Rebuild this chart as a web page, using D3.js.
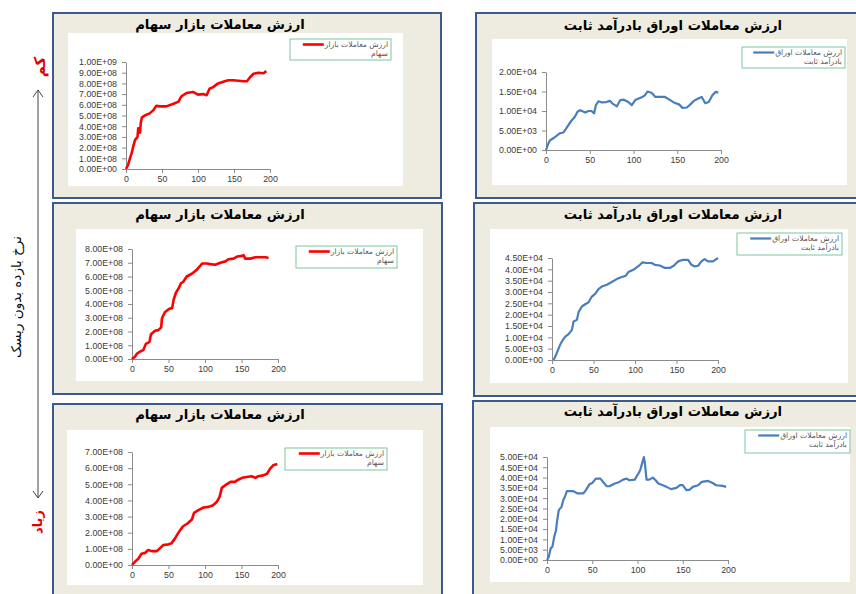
<!DOCTYPE html>
<html>
<head>
<meta charset="utf-8">
<script src="https://cdn.jsdelivr.net/npm/d3@7"></script>
<style>
  body { margin: 0; background: #fff; }
  svg { display: block; }
</style>
</head>
<body>
<div id="chart"></div>
<script>
// ---- data ----
const xTicks = [0, 50, 100, 150, 200];

// stock market, low risk-free rate (top left)
const stockLowX = [0, 3, 5.5, 8, 10, 12.5, 16, 17, 19.5, 20.5, 22, 26, 33, 38, 42, 47, 56, 66, 73, 77, 84, 93, 100, 107, 112, 116, 121, 128, 135, 142, 149, 156, 163, 168, 172, 177, 184, 191, 195];
const stockLowY = [0, 0.4e8, 1.0e8, 1.5e8, 2.1e8, 2.7e8, 3.0e8, 3.8e8, 3.4e8, 4.3e8, 4.8e8, 5.0e8, 5.2e8, 5.5e8, 5.9e8, 5.85e8, 5.85e8, 6.1e8, 6.3e8, 6.8e8, 7.1e8, 7.2e8, 6.95e8, 7.0e8, 6.9e8, 7.5e8, 7.65e8, 8.0e8, 8.15e8, 8.3e8, 8.3e8, 8.25e8, 8.2e8, 8.2e8, 8.55e8, 8.9e8, 9.0e8, 8.95e8, 9.15e8];
const stockLowTicks = [0, 1e8, 2e8, 3e8, 4e8, 5e8, 6e8, 7e8, 8e8, 9e8, 1e9];

// fixed income, low rate (top right)
const bondLowX = [0, 2.7, 4.6, 8.4, 12, 16, 20, 23, 25.6, 29, 33, 36, 39, 45, 48.5, 52, 55, 57, 60, 64, 69, 73, 76, 81, 85, 89, 94, 98, 102, 106, 110, 113, 116, 121, 125, 130, 136, 142, 146, 152, 156, 161, 165, 169, 174, 178, 182, 186, 190, 194, 197];
const bondLowY = [0, 1.7e3, 2.5e3, 3.0e3, 3.6e3, 4.3e3, 4.5e3, 5.5e3, 6.4e3, 7.5e3, 8.5e3, 9.8e3, 10.2e3, 9.6e3, 10.0e3, 10.0e3, 9.4e3, 11.5e3, 12.5e3, 12.2e3, 12.3e3, 12.6e3, 11.9e3, 11.2e3, 12.8e3, 12.9e3, 12.3e3, 11.5e3, 12.8e3, 13.2e3, 13.6e3, 14.0e3, 15.0e3, 14.6e3, 13.6e3, 13.6e3, 13.6e3, 12.8e3, 12.2e3, 11.7e3, 10.8e3, 10.9e3, 11.7e3, 12.6e3, 13.2e3, 13.6e3, 12.0e3, 12.3e3, 14.0e3, 14.9e3, 14.7e3];
const bondLowTicks = [0, 5e3, 1e4, 1.5e4, 2e4];

// stock market, medium rate (middle left)
const stockMidX = [0, 4, 7, 11, 15.5, 19, 24, 26, 31.6, 36, 40, 41, 45, 51, 55, 57, 60, 64, 67, 70, 75, 82, 89, 93, 96, 103, 107, 114, 121, 128, 132, 139, 144, 151, 153, 155, 162, 169, 176, 183, 187];
const stockMidY = [0, 0.17e8, 0.4e8, 0.53e8, 0.65e8, 1.1e8, 1.25e8, 1.8e8, 2.05e8, 2.1e8, 2.3e8, 2.95e8, 3.4e8, 3.65e8, 3.7e8, 4.3e8, 4.8e8, 5.15e8, 5.5e8, 5.6e8, 6.0e8, 6.2e8, 6.5e8, 6.75e8, 6.95e8, 6.95e8, 6.9e8, 6.85e8, 7.0e8, 7.1e8, 7.25e8, 7.3e8, 7.45e8, 7.5e8, 7.55e8, 7.3e8, 7.3e8, 7.4e8, 7.4e8, 7.4e8, 7.35e8];
const stockMidTicks = [0, 1e8, 2e8, 3e8, 4e8, 5e8, 6e8, 7e8, 8e8];

// fixed income, medium rate (middle right)
const bondMidX = [2, 5.6, 9.6, 13, 16, 20, 24, 26, 30, 32, 36, 40, 44, 48, 52, 56, 60, 66, 72, 78, 84, 89, 92, 98, 102, 106, 109, 114, 120, 124, 130, 136, 142, 147, 152, 158, 164, 168, 172, 176, 180, 184, 188, 194, 200];
const bondMidY = [0, 2.9e3, 6.6e3, 8.8e3, 10.3e3, 11.4e3, 13.3e3, 17.0e3, 17.7e3, 21.1e3, 23.6e3, 24.6e3, 25.5e3, 28.0e3, 29.2e3, 31.3e3, 32.4e3, 33.2e3, 34.4e3, 35.7e3, 36.6e3, 37.2e3, 38.8e3, 39.8e3, 40.9e3, 42.0e3, 43.1e3, 42.8e3, 42.8e3, 42.0e3, 41.7e3, 40.6e3, 40.6e3, 41.7e3, 43.5e3, 44.2e3, 44.2e3, 42.0e3, 41.3e3, 41.6e3, 43.5e3, 44.5e3, 43.5e3, 43.5e3, 45.0e3];
const bondMidTicks = [0, 5e3, 1e4, 1.5e4, 2e4, 2.5e4, 3e4, 3.5e4, 4e4, 4.5e4];

// stock market, high rate (bottom left)
const stockHighX = [0, 4, 9, 13, 18, 22, 27, 34, 38, 43, 50, 54, 59, 63, 66, 70, 76, 82, 85, 91, 98, 105, 111, 116, 120, 123, 129, 135, 141, 146, 151, 157, 164, 169, 173, 180, 185, 189, 194, 199];
const stockHighY = [0, 0.2e8, 0.4e8, 0.7e8, 0.75e8, 0.93e8, 0.86e8, 0.86e8, 1.03e8, 1.24e8, 1.28e8, 1.34e8, 1.65e8, 1.96e8, 2.16e8, 2.4e8, 2.57e8, 2.82e8, 3.23e8, 3.4e8, 3.56e8, 3.6e8, 3.7e8, 3.9e8, 4.22e8, 4.78e8, 4.98e8, 5.15e8, 5.15e8, 5.3e8, 5.4e8, 5.45e8, 5.5e8, 5.4e8, 5.5e8, 5.55e8, 5.65e8, 5.95e8, 6.2e8, 6.25e8];
const stockHighTicks = [0, 1e8, 2e8, 3e8, 4e8, 5e8, 6e8, 7e8];

// fixed income, high rate (bottom right)
const bondHighX = [0, 2, 4, 6, 8, 10, 11, 13, 16, 18, 20, 22, 29, 34, 40, 43, 47, 50, 54, 59, 62, 66, 69, 75, 80, 84, 88, 91, 97, 99, 102, 103.5, 105, 107, 108, 110, 113, 117, 120, 123, 128, 132, 137, 143, 147, 150, 154, 158, 161, 167, 171, 178, 183, 187, 194, 198];
const bondHighY = [0, 1.6e3, 5.6e3, 6.5e3, 11.3e3, 14.5e3, 18.5e3, 24.2e3, 25.8e3, 29.0e3, 31.0e3, 33.4e3, 33.4e3, 32.3e3, 32.3e3, 33.9e3, 36.8e3, 37.4e3, 39.5e3, 39.5e3, 37.9e3, 35.8e3, 35.8e3, 37.1e3, 37.9e3, 39.0e3, 39.5e3, 38.7e3, 39.0e3, 40.6e3, 42.7e3, 44.4e3, 46.8e3, 50.0e3, 47.6e3, 39.0e3, 39.0e3, 40.0e3, 38.7e3, 37.1e3, 36.3e3, 35.5e3, 34.4e3, 35.0e3, 36.3e3, 36.3e3, 33.9e3, 34.2e3, 35.5e3, 36.3e3, 37.9e3, 38.4e3, 37.4e3, 36.3e3, 36.0e3, 35.5e3];
const bondHighTicks = [0, 5e3, 1e4, 1.5e4, 2e4, 2.5e4, 3e4, 3.5e4, 4e4, 4.5e4, 5e4];

const stockTitle = "ارزش معاملات بازار سهام";
const bondTitle = "ارزش معاملات اوراق بادرآمد ثابت";
const stockLegend = ["ارزش معاملات بازار", "سهام"];
const bondLegend = ["ارزش معاملات اوراق", "بادرآمد ثابت"];
const sideLabel = "نرخ بازده بدون ریسک";
const lowLabel = "کم";
const highLabel = "زیاد";

const RED = "#ff0000";
const BLUE = "#4a7ebb";

// ---- layout of the six framed charts ----
const panels = [
  { frame: [53, 13, 388, 185], area: [68, 33, 335, 153], px: [126, 270], py: [169, 62], titleY: 29, titleX: 220,
    legend: [290, 39, 101, 21], xs: stockLowX, ys: stockLowY, ticks: stockLowTicks, title: stockTitle, leg: stockLegend, color: RED, w: 2.6 },
  { frame: [476, 13, 384, 185], area: [492, 39, 355, 146], px: [546, 721], py: [150, 72], titleY: 30, titleX: 673,
    legend: [742, 47, 103, 21], xs: bondLowX, ys: bondLowY, ticks: bondLowTicks, title: bondTitle, leg: bondLegend, color: BLUE, w: 2.2 },
  { frame: [53, 203, 389, 191], area: [76, 229, 347, 152], px: [132, 278], py: [359, 249], titleY: 219, titleX: 220,
    legend: [296, 246, 101, 22], xs: stockMidX, ys: stockMidY, ticks: stockMidTicks, title: stockTitle, leg: stockLegend, color: RED, w: 2.6 },
  { frame: [474, 203, 386, 193], area: [490, 229, 358, 154], px: [552, 718], py: [360, 258], titleY: 219, titleX: 673,
    legend: [737, 233, 105, 22], xs: bondMidX, ys: bondMidY, ticks: bondMidTicks, title: bondTitle, leg: bondLegend, color: BLUE, w: 2.2 },
  { frame: [53, 404, 389, 200], area: [67, 430, 356, 155], px: [132, 278], py: [565, 452], titleY: 419, titleX: 220,
    legend: [285, 448, 102, 22], xs: stockHighX, ys: stockHighY, ticks: stockHighTicks, title: stockTitle, leg: stockLegend, color: RED, w: 2.6 },
  { frame: [473, 401, 387, 200], area: [490, 427, 360, 155], px: [547, 728], py: [560, 457], titleY: 416, titleX: 673,
    legend: [745, 430, 105, 23], xs: bondHighX, ys: bondHighY, ticks: bondHighTicks, title: bondTitle, leg: bondLegend, color: BLUE, w: 2.2 }
];

// Excel style "1.00E+09"
function sci(v) {
  const [m, e] = v.toExponential(2).split("e");
  const n = +e;
  return m + "E" + (n < 0 ? "-" : "+") + String(Math.abs(n)).padStart(2, "0");
}

const svg = d3.select("#chart").append("svg")
  .attr("width", 856)
  .attr("height", 594);

svg.append("rect").attr("width", 856).attr("height", 594).attr("fill", "#fff");

panels.forEach(p => {
  const g = svg.append("g");

  g.append("rect")
    .attr("x", p.frame[0]).attr("y", p.frame[1])
    .attr("width", p.frame[2]).attr("height", p.frame[3])
    .attr("fill", "#eeece1")
    .attr("stroke", "#3d5a8c")
    .attr("stroke-width", 2);

  g.append("rect")
    .attr("x", p.area[0]).attr("y", p.area[1])
    .attr("width", p.area[2]).attr("height", p.area[3])
    .attr("fill", "#fff");

  g.append("text")
    .attr("x", p.titleX).attr("y", p.titleY)
    .attr("text-anchor", "middle")
    .attr("font-family", "DejaVu Sans")
    .attr("font-weight", "bold")
    .attr("font-size", 13.2)
    .attr("fill", "#000")
    .text(p.title);

  const x = d3.scaleLinear().domain([0, 200]).range(p.px);
  const y = d3.scaleLinear().domain([0, d3.max(p.ticks)]).range(p.py);

  const ya = g.append("g")
    .attr("transform", `translate(${p.px[0]},0)`)
    .call(d3.axisLeft(y).tickValues(p.ticks).tickFormat(sci).tickSize(4).tickSizeOuter(0));
  const xa = g.append("g")
    .attr("transform", `translate(0,${p.py[0]})`)
    .call(d3.axisBottom(x).tickValues(xTicks).tickSize(4).tickSizeOuter(0));

  [ya, xa].forEach(a => {
    a.select(".domain").attr("stroke", "#8c8c8c");
    a.selectAll(".tick line").attr("stroke", "#8c8c8c");
    a.selectAll(".tick text")
      .attr("fill", "#3a3a3a")
      .attr("font-family", "Liberation Sans")
      .attr("font-size", 8.8);
  });
  ya.selectAll(".tick text").attr("x", -9);
  xa.selectAll(".tick text").attr("y", 7);

  const line = d3.line()
    .x((d, i) => x(p.xs[i]))
    .y(d => y(d));

  g.append("path")
    .datum(p.ys)
    .attr("d", line)
    .attr("fill", "none")
    .attr("stroke", p.color)
    .attr("stroke-width", p.w)
    .attr("stroke-linejoin", "round");

  // legend: key line sits just left of the first text line
  const [lx, ly, lw, lh] = p.legend;
  g.append("rect")
    .attr("x", lx).attr("y", ly).attr("width", lw).attr("height", lh)
    .attr("fill", "#fff")
    .attr("stroke", "#7cc7a0")
    .attr("stroke-width", 1);
  const labels = p.leg.map((t, i) => g.append("text")
      .attr("x", lx + lw - 3)
      .attr("y", ly + 8 + i * 8.5)
      .attr("text-anchor", "end")
      .attr("font-family", "DejaVu Sans")
      .attr("font-size", 7.6)
      .attr("fill", "#555")
      .text(t));
  const firstW = labels[0].node().getComputedTextLength();
  const keyEnd = Math.max(lx + 14, lx + lw - 3 - firstW - 1);
  g.append("line")
    .attr("x1", keyEnd - 21).attr("x2", keyEnd)
    .attr("y1", ly + 5.5).attr("y2", ly + 5.5)
    .attr("stroke", p.color)
    .attr("stroke-width", p.w);
});

// left annotation: arrow and labels
const side = svg.append("g");
side.append("line")
  .attr("x1", 38).attr("x2", 38).attr("y1", 90).attr("y2", 498)
  .attr("stroke", "#444").attr("stroke-width", 1);
side.append("path")
  .attr("d", "M33,97 L38,90 L43,97 M33,491 L38,498 L43,491")
  .attr("fill", "none").attr("stroke", "#444").attr("stroke-width", 1);

side.append("text")
  .attr("transform", "translate(21,297) rotate(-90)")
  .attr("text-anchor", "middle")
  .attr("font-family", "DejaVu Sans")
  .attr("font-size", 13.5)
  .attr("fill", "#111")
  .text(sideLabel);

side.append("text")
  .attr("transform", "translate(45,67) rotate(-90)")
  .attr("text-anchor", "middle")
  .attr("font-family", "DejaVu Sans")
  .attr("font-weight", "bold")
  .attr("font-size", 15)
  .attr("fill", "#e00000")
  .text(lowLabel);

side.append("text")
  .attr("transform", "translate(42,522) rotate(-90)")
  .attr("text-anchor", "middle")
  .attr("font-family", "DejaVu Sans")
  .attr("font-weight", "bold")
  .attr("font-size", 13)
  .attr("fill", "#e00000")
  .text(highLabel);
</script>
</body>
</html>
